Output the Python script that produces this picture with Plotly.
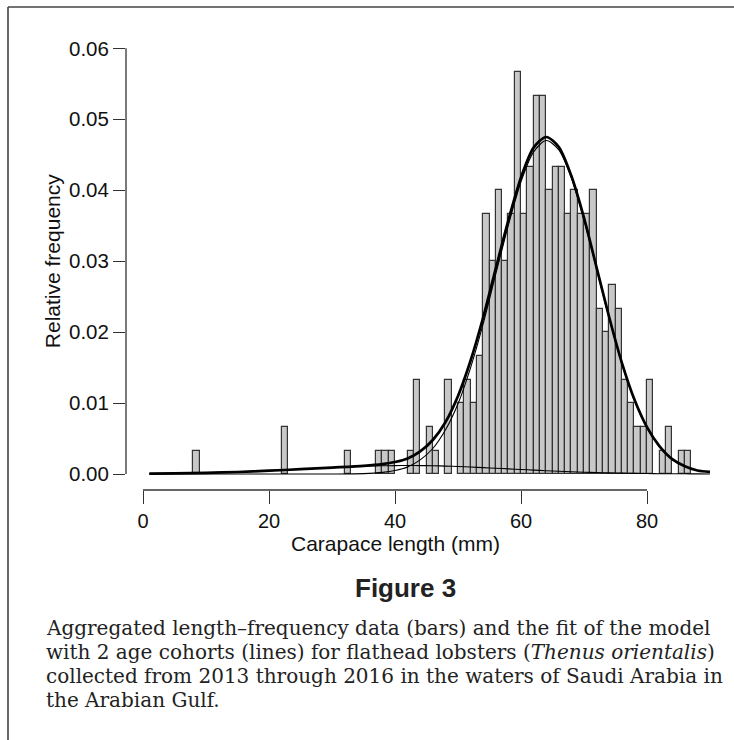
import plotly.graph_objects as go

# ---------------- data ----------------
length_bins = [8, 22, 32, 37, 38, 39, 42, 43, 45, 46, 48, 50, 51, 52, 53, 54, 55, 56, 57, 58,
               59, 60, 61, 62, 63, 64, 65, 66, 67, 68, 69, 70, 71, 72, 73, 74, 75, 76, 77, 78,
               79, 80, 82, 83, 85, 86]
rel_freq = [0.0033, 0.0067, 0.0033, 0.0033, 0.0033, 0.0033, 0.0033, 0.0133, 0.0067, 0.0033,
            0.0133, 0.0100, 0.0133, 0.0100, 0.0167, 0.0367, 0.0300, 0.0400, 0.0300, 0.0367,
            0.0567, 0.0367, 0.0433, 0.0533, 0.0533, 0.0400, 0.0433, 0.0433, 0.0367, 0.0400,
            0.0367, 0.0367, 0.0400, 0.0233, 0.0200, 0.0267, 0.0233, 0.0133, 0.0100, 0.0067,
            0.0067, 0.0133, 0.0033, 0.0067, 0.0033, 0.0033]

curve_x = [1, 5, 10, 15, 20, 25, 30, 35, 38, 40, 42, 44, 46, 48, 50, 52, 54, 56, 58, 60,
           62, 64, 66, 68, 70, 72, 74, 76, 78, 80, 82, 84, 86, 88, 90]
fit_total = [0.00005, 0.00008, 0.00016, 0.00029, 0.00047, 0.00068, 0.00091, 0.00115, 0.00139,
             0.00169, 0.0022, 0.0032, 0.0048, 0.0073, 0.0110, 0.0160, 0.0221, 0.0290, 0.0358,
             0.0418, 0.0460, 0.0475, 0.0461, 0.0420, 0.0361, 0.0291, 0.0221, 0.0157, 0.0105,
             0.0066, 0.0039, 0.0021, 0.0011, 0.0005, 0.0003]
cohort_2 = [0.0, 0.0, 0.0, 0.0, 0.0, 0.0, 0.000005, 0.00006, 0.00023, 0.0005, 0.0010, 0.0020,
            0.0036, 0.0062, 0.0099, 0.0150, 0.0212, 0.0282, 0.0351, 0.0412, 0.0454, 0.0470,
            0.0457, 0.0417, 0.0358, 0.0289, 0.0219, 0.0156, 0.0104, 0.0065, 0.0038, 0.0021,
            0.0011, 0.0005, 0.0003]
cohort_1 = [0.00005, 0.00008, 0.00016, 0.00029, 0.00047, 0.00068, 0.00091, 0.00109, 0.00116,
            0.00119, 0.00120, 0.00119, 0.00117, 0.00112, 0.00106, 0.00099, 0.00090, 0.00082,
            0.00073, 0.00064, 0.00055, 0.00047, 0.00040, 0.00032, 0.00026, 0.00021, 0.00016,
            0.00013, 0.00010, 0.00007, 0.00005, 0.00004, 0.00003, 0.00002, 0.00001]

x_ticks = [0, 20, 40, 60, 80]
y_ticks = [0.00, 0.01, 0.02, 0.03, 0.04, 0.05, 0.06]

caption_title = "Figure 3"
caption_lines = [
    "Aggregated length\u2013frequency data (bars) and the fit of the model",
    "with 2 age cohorts (lines) for flathead lobsters (<i>Thenus orientalis</i>)",
    "collected from 2013 through 2016 in the waters of Saudi Arabia in",
    "the Arabian Gulf.",
]

# ---------------- layout geometry ----------------
W, H = 734, 740
ML, MR, MT, MB = 126, 0, 31, 250
PW, PH = W - ML - MR, H - MT - MB


def px(xp):
    return (xp - ML) / PW


def py(yp):
    return (H - MB - yp) / PH


AX = "#333333"
SANS = "Liberation Sans, Arial, Helvetica, sans-serif"

fig = go.Figure()
fig.add_trace(go.Bar(
    x=length_bins, y=rel_freq, width=1, offset=0,
    marker=dict(color="#c8c8c8", line=dict(color="#333333", width=1.2)),
    showlegend=False, hoverinfo="x+y"))

for ys, w in [(cohort_1, 1.1), (cohort_2, 1.1), (fit_total, 2.7)]:
    fig.add_trace(go.Scatter(
        x=curve_x, y=ys, mode="lines",
        line=dict(color="black", width=w, shape="spline", smoothing=0.8),
        showlegend=False))

shapes = [
    # y axis line (0 to 0.06)
    dict(type="line", xref="paper", yref="y", x0=0, x1=0, y0=0, y1=0.06,
         line=dict(color=AX, width=1.3)),
    # x axis line (0 to 80)
    dict(type="line", xref="x", yref="paper", x0=0, x1=80, y0=0, y1=0,
         line=dict(color=AX, width=1.3)),
    # frame of the figure panel
    dict(type="line", xref="paper", yref="paper", x0=px(8), x1=px(8), y0=py(7), y1=py(H + 2),
         line=dict(color="#444444", width=1.6)),
    dict(type="line", xref="paper", yref="paper", x0=px(8), x1=px(W + 2), y0=py(7), y1=py(7),
         line=dict(color="#444444", width=1.6)),
]

annotations = [
    dict(text="Carapace length (mm)", xref="x", yref="paper", x=40, y=py(543),
         showarrow=False, xanchor="center", yanchor="middle",
         font=dict(family=SANS, size=21, color="#111111")),
    dict(text="Relative frequency", xref="paper", yref="y", x=px(52), y=0.03,
         textangle=-90, showarrow=False, xanchor="center", yanchor="middle",
         font=dict(family=SANS, size=21, color="#111111")),
    dict(text="<b>" + caption_title + "</b>", xref="paper", yref="paper", x=px(405), y=py(588),
         showarrow=False, xanchor="center", yanchor="middle",
         font=dict(family=SANS, size=26, color="#222222")),
]
for i, line in enumerate(caption_lines):
    annotations.append(dict(
        text=line, xref="paper", yref="paper", x=px(44), y=py(628 + 24 * i),
        showarrow=False, xanchor="left", yanchor="middle",
        font=dict(family="DejaVu Serif, Liberation Serif, serif", size=20, color="#222222")))

fig.update_layout(
    width=W, height=H,
    margin=dict(l=ML, r=MR, t=MT, b=MB, pad=0),
    paper_bgcolor="white", plot_bgcolor="white",
    shapes=shapes, annotations=annotations,
    xaxis=dict(range=[-2.7, -2.7 + PW / 6.3], tickvals=x_ticks, ticks="outside",
               ticklen=13, tickwidth=1.3, tickcolor=AX, showline=False, showgrid=False,
               zeroline=False, tickfont=dict(family=SANS, size=20, color="#111111")),
    yaxis=dict(range=[-0.00225, -0.00225 + PH / 7095.0], tickvals=y_ticks, tickformat=".2f",
               ticks="outside", ticklen=12, tickwidth=1.3, tickcolor=AX, showline=False,
               showgrid=False, zeroline=False,
               tickfont=dict(family=SANS, size=20.5, color="#111111")),
    bargap=0,
)

fig.write_html("out.html")
